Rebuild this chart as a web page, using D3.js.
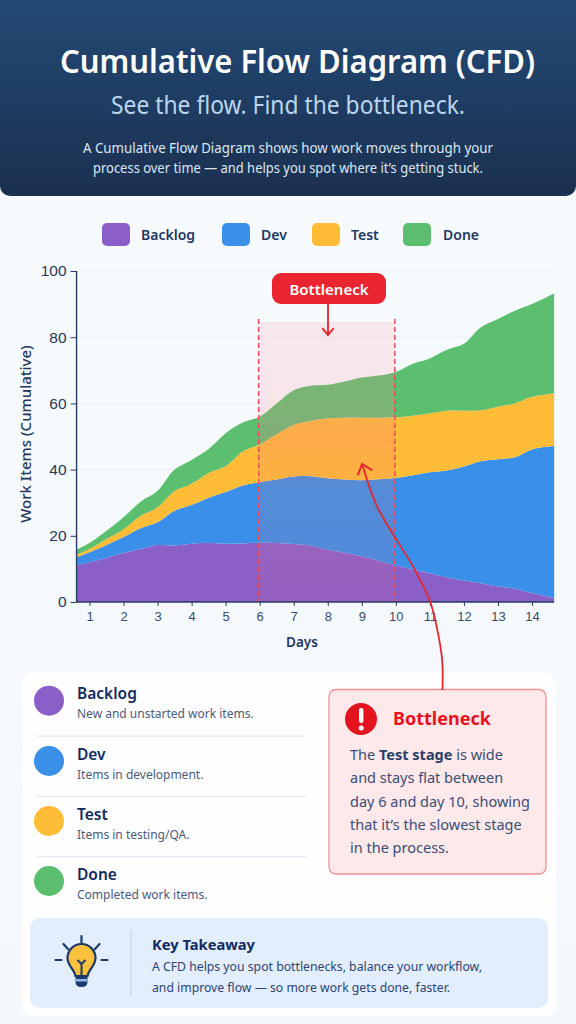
<!DOCTYPE html>
<html>
<head>
<meta charset="utf-8">
<script src="https://cdn.jsdelivr.net/npm/d3@7"></script>
<style>
    html, body { margin: 0; padding: 0; background: #f6fafd; }
    svg { display: block; font-family: "Noto Sans", sans-serif; }
    .y-axis text { font-size: 15.5px; fill: #26375a; }
    .x-axis text { font-size: 13px; fill: #3a4a6a; }
    .axis-line { stroke: #2a3a5e; }
</style>
</head>
<body>
<div id="chart"></div>
<script>
// Sampled days along the x axis
var days = [0.62, 1, 1.5, 2, 2.5, 3, 3.5, 4, 4.5, 5, 5.5, 6, 6.5, 7, 7.5, 8, 8.5, 9, 9.5, 10, 10.5, 11, 11.5, 12, 12.5, 13, 13.5, 14, 14.65];

// Width of each band at the sampled days
var backlog = [11, 12, 13.4, 14.8, 16, 17.2, 17.1, 17.6, 17.9, 17.6, 17.7, 17.9, 17.8, 17.5, 17, 15.8, 14.9, 13.8, 12.5, 11, 9.8, 8.7, 7.5, 6.5, 5.7, 4.7, 4, 2.7, 1.2];
var dev = [2.5, 3, 3.8, 4.8, 6.3, 6.9, 10.5, 11.7, 13.6, 15.6, 17.5, 18.3, 19.2, 20.4, 21, 21.6, 22.1, 23, 24.6, 26.5, 28.5, 30.5, 32.2, 34.4, 36.8, 38.4, 39.7, 43.4, 45.9];
var test = [0.8, 1, 1.8, 2.4, 3.7, 4.5, 5.9, 6.4, 7.5, 7.8, 10.3, 11.4, 13.7, 15.6, 16.7, 18.1, 18.7, 18.9, 18.6, 18.3, 18, 17.8, 18.1, 16.9, 15.4, 15.9, 16.3, 15.9, 16];
var done = [1.5, 1.8, 2.5, 3.6, 4.3, 5, 6.5, 7.2, 7.2, 10, 8.7, 8.4, 9.3, 10.5, 10.6, 10.1, 10.9, 12.1, 12.7, 13.7, 15.7, 16.6, 18.4, 20.2, 25.1, 26.5, 28, 28, 30.1];

var stageNames = ["Backlog", "Dev", "Test", "Done"];
var stageColors = ["#8a60c8", "#3a8fe8", "#ffbc36", "#5cbf70"];
var stageNotes = ["New and unstarted work items.", "Items in development.", "Items in testing/QA.", "Completed work items."];

var dayTicks = [1, 2, 3, 4, 5, 6, 7, 8, 9, 10, 11, 12, 13, 14];
var valueTicks = [0, 20, 40, 60, 80, 100];
var bottleneckDays = [6, 10];
var bottleneckTop = 84.6;

// Curved annotation arrow in [day, value] terms
var arrowPath = [[11.37, -26.6], [11.36, -17.5], [11.19, -7], [11.01, 0], [10.51, 10.6], [9.99, 19.3], [9.43, 29.3], [9.01, 41.7]];

var width = 576, height = 1024;

var svg = d3.select("#chart").append("svg")
    .attr("width", width)
    .attr("height", height);

var defs = svg.append("defs");

function addGradient(id, stops) {
    var g = defs.append("linearGradient").attr("id", id)
        .attr("x1", 0).attr("y1", 0).attr("x2", 0).attr("y2", 1);
    stops.forEach(function(s) {
        g.append("stop").attr("offset", s[0]).attr("stop-color", s[1]).attr("stop-opacity", s[2]);
    });
}
addGradient("headerFill", [[0, "#244a75", 1], [1, "#1a3050", 1]]);
addGradient("bandFill", [[0, "#ff8a90", 0.16], [0.28, "#ff8a90", 0.18], [0.42, "#f57a80", 0.26], [0.6, "#f57a70", 0.14], [1, "#f0608a", 0.12]]);
addGradient("pageFill", [[0, "#f7fbfd", 1], [1, "#f3f8fc", 1]]);

svg.append("rect").attr("width", width).attr("height", height).attr("fill", "url(#pageFill)");

// Header
svg.append("path")
    .attr("d", "M0,0H576V186a10,10 0 0 1 -10,10H10a10,10 0 0 1 -10,-10Z")
    .attr("fill", "url(#headerFill)");

function addText(parent, x, y, str, size, weight, color, anchor) {
    return parent.append("text")
        .attr("x", x).attr("y", y)
        .attr("font-size", size)
        .attr("font-weight", weight)
        .attr("fill", color)
        .attr("text-anchor", anchor || "start")
        .text(str);
}

// squeeze a line to the width it has in the picture
function fitText(sel, len) {
    return sel.attr("textLength", len).attr("lengthAdjust", "spacingAndGlyphs");
}

fitText(addText(svg, 297.5, 73, "Cumulative Flow Diagram (CFD)", 31.5, 600, "#ffffff", "middle"), 475);
fitText(addText(svg, 288, 114, "See the flow. Find the bottleneck.", 24.5, 400, "#bcd5ee", "middle"), 354);
fitText(addText(svg, 288, 153, "A Cumulative Flow Diagram shows how work moves through your", 13.6, 400, "#dde7f2", "middle"), 410);
fitText(addText(svg, 288, 173, "process over time \u2014 and helps you spot where it\u2019s getting stuck.", 13.6, 400, "#dde7f2", "middle"), 390);

// Top legend
var legendX = [102, 222, 312, 403];
var legendTextX = [141, 261, 351, 443];
stageNames.forEach(function(name, i) {
    svg.append("rect")
        .attr("x", legendX[i]).attr("y", 223)
        .attr("width", 28).attr("height", 23).attr("rx", 5)
        .attr("fill", stageColors[i]);
    addText(svg, legendTextX[i], 240, name, 14, 600, "#1f3763");
});

// Scales
var x = d3.scaleLinear().domain([1, 14]).range([89.5, 532]);
var y = d3.scaleLinear().domain([0, 100]).range([602, 271]);
var plotLeft = x(days[0]), plotRight = x(days[days.length - 1]);

// Grid lines
svg.append("g").selectAll("line")
    .data(valueTicks.slice(1))
    .enter().append("line")
    .attr("x1", plotLeft).attr("x2", plotRight)
    .attr("y1", function(d) { return y(d); })
    .attr("y2", function(d) { return y(d); })
    .attr("stroke", "#e9eff5")
    .attr("stroke-width", 1);

// Stacked areas
var rows = days.map(function(d, i) {
    return { day: d, Backlog: backlog[i], Dev: dev[i], Test: test[i], Done: done[i] };
});
var stack = d3.stack().keys(stageNames);
var area = d3.area()
    .x(function(d) { return x(d.data.day); })
    .y0(function(d) { return y(d[0]); })
    .y1(function(d) { return y(d[1]); })
    .curve(d3.curveCatmullRom);

svg.append("g").selectAll("path")
    .data(stack(rows))
    .enter().append("path")
    .attr("d", area)
    .attr("fill", function(d, i) { return stageColors[i]; });

// Bottleneck band
svg.append("rect")
    .attr("x", x(bottleneckDays[0]) - 1)
    .attr("y", y(bottleneckTop))
    .attr("width", x(bottleneckDays[1]) - x(bottleneckDays[0]))
    .attr("height", y(0) - y(bottleneckTop))
    .attr("fill", "url(#bandFill)");

svg.append("g").selectAll("line")
    .data(bottleneckDays)
    .enter().append("line")
    .attr("x1", function(d) { return x(d) - 1; })
    .attr("x2", function(d) { return x(d) - 1; })
    .attr("y1", y(85.5))
    .attr("y2", y(0))
    .attr("stroke", "#ec4a58")
    .attr("stroke-width", 1.5)
    .attr("stroke-dasharray", "5,3");

// Axes
var xAxis = d3.axisBottom(x).tickValues(dayTicks).tickSize(4).tickPadding(6).tickFormat(d3.format("d"));
var yAxis = d3.axisLeft(y).tickValues(valueTicks).tickSize(6).tickPadding(4);

var gx = svg.append("g").attr("class", "x-axis")
    .attr("transform", "translate(0," + y(0) + ")").call(xAxis);
var gy = svg.append("g").attr("class", "y-axis")
    .attr("transform", "translate(" + plotLeft + ",0)").call(yAxis);

gx.select(".domain").remove();
gy.select(".domain").remove();
gx.selectAll("line").attr("stroke", "#2a3a5e");
gy.selectAll("line").attr("stroke", "#2a3a5e");

svg.append("line").attr("class", "axis-line")
    .attr("x1", plotLeft).attr("x2", plotRight)
    .attr("y1", y(0)).attr("y2", y(0)).attr("stroke-width", 1.4);
svg.append("line").attr("class", "axis-line")
    .attr("x1", plotLeft).attr("x2", plotLeft)
    .attr("y1", y(100)).attr("y2", y(0)).attr("stroke-width", 1.4);

addText(svg, 302, 647, "Days", 13.5, 600, "#1f3763", "middle");
svg.append("text")
    .attr("transform", "translate(31,434) rotate(-90)")
    .attr("text-anchor", "middle")
    .attr("font-size", 15)
    .attr("font-weight", 500)
    .attr("fill", "#26375a")
    .text("Work Items (Cumulative)");

// Bottleneck pill with its short arrow
svg.append("rect")
    .attr("x", 272).attr("y", 273)
    .attr("width", 114).attr("height", 31).attr("rx", 9)
    .attr("fill", "#e9252f");
addText(svg, 329, 295, "Bottleneck", 15, 600, "#ffffff", "middle");

function arrowHead(tipX, tipY, angle, size) {
    // two short strokes swept back from the tip
    var a1 = angle + Math.PI * 0.78, a2 = angle - Math.PI * 0.78;
    return "M" + (tipX + size * Math.cos(a1)) + "," + (tipY + size * Math.sin(a1)) +
        "L" + tipX + "," + tipY +
        "L" + (tipX + size * Math.cos(a2)) + "," + (tipY + size * Math.sin(a2));
}

svg.append("line")
    .attr("x1", 328).attr("x2", 328).attr("y1", 304).attr("y2", 334)
    .attr("stroke", "#e5202c").attr("stroke-width", 1.8);
svg.append("path")
    .attr("d", arrowHead(328, 335, Math.PI / 2, 9))
    .attr("fill", "none").attr("stroke", "#e5202c").attr("stroke-width", 1.8);

// Long curved arrow down to the callout
var arrowLine = d3.line()
    .x(function(d) { return x(d[0]); })
    .y(function(d) { return y(d[1]); })
    .curve(d3.curveCatmullRom);

// Cards
svg.append("rect")
    .attr("x", 22).attr("y", 673)
    .attr("width", 534).attr("height", 343).attr("rx", 10)
    .attr("fill", "#ffffff").attr("fill-opacity", 0.85);

var rowY = [700.7, 761, 821, 881];
stageNames.forEach(function(name, i) {
    svg.append("circle")
        .attr("cx", 49).attr("cy", rowY[i]).attr("r", 15)
        .attr("fill", stageColors[i]);
    addText(svg, 77, rowY[i] - 1.5, name, 15.5, 600, "#12295e");
    addText(svg, 77, rowY[i] + 17.5, stageNotes[i], 12, 400, "#4a5a7a");
    if (i < 3) {
        svg.append("line")
            .attr("x1", 37).attr("x2", 306)
            .attr("y1", rowY[i] + 35.5).attr("y2", rowY[i] + 35.5)
            .attr("stroke", "#dfe7f2").attr("stroke-width", 1.2);
    }
});

// Callout
svg.append("rect")
    .attr("x", 329).attr("y", 689.5)
    .attr("width", 217).attr("height", 184.5).attr("rx", 7)
    .attr("fill", "#fde8ea")
    .attr("stroke", "#f48f95").attr("stroke-width", 1.3);

svg.append("path")
    .attr("d", arrowLine(arrowPath))
    .attr("fill", "none").attr("stroke", "#e5262f").attr("stroke-width", 1.8);
svg.append("path")
    .attr("d", arrowHead(x(arrowPath[7][0]), y(arrowPath[7][1]), -Math.PI * 0.6, 12))
    .attr("fill", "none").attr("stroke", "#e5262f").attr("stroke-width", 2);

svg.append("circle").attr("cx", 361).attr("cy", 719).attr("r", 16).attr("fill", "#e4141f");
svg.append("rect").attr("x", 359).attr("y", 708).attr("width", 4.4).attr("height", 15).attr("rx", 2).attr("fill", "#ffffff");
svg.append("circle").attr("cx", 361.2).attr("cy", 728).attr("r", 2.5).attr("fill", "#ffffff");
addText(svg, 393, 725, "Bottleneck", 18, 700, "#e8121f");

var calloutLines = ["and stays flat between", "day 6 and day 10, showing", "that it\u2019s the slowest stage", "in the process."];
var firstLine = addText(svg, 350, 760, "The ", 14.5, 400, "#3a4d75");
firstLine.append("tspan").attr("font-weight", 700).attr("fill", "#2a3d66").text("Test stage");
firstLine.append("tspan").text(" is wide");
calloutLines.forEach(function(line, i) {
    addText(svg, 350, 783.3 + i * 23.2, line, 14.5, 400, "#3a4d75");
});

// Key takeaway
svg.append("rect")
    .attr("x", 30).attr("y", 918)
    .attr("width", 518).attr("height", 90).attr("rx", 10)
    .attr("fill", "#e2eefb");
svg.append("line")
    .attr("x1", 131).attr("x2", 131).attr("y1", 930).attr("y2", 996)
    .attr("stroke", "#bcd6f2").attr("stroke-width", 1.2);

var bulb = svg.append("g").attr("transform", "translate(81.5,961)");
bulb.append("path")
    .attr("d", "M-6,15C-7,8 -14,5 -14,-3A14,14 0 0 1 14,-3C14,5 7,8 6,15Z")
    .attr("fill", "#fcc23e").attr("stroke", "#1b3a6b").attr("stroke-width", 2.2);
bulb.append("path")
    .attr("d", "M-4,-1L0,3L4,-1M0,3V15")
    .attr("fill", "none").attr("stroke", "#1b3a6b").attr("stroke-width", 2);
bulb.append("path")
    .attr("d", "M-6,15H6V21Q6,26 0,26Q-6,26 -6,21Z")
    .attr("fill", "#1b3a6b");
bulb.append("rect").attr("x", -6).attr("y", 18).attr("width", 12).attr("height", 2.5).attr("fill", "#8fb6e6");
bulb.append("path")
    .attr("d", "M0,-25V-17M-18,-17L-13.5,-12M18,-17L13.5,-12M-26,-1H-20M26,-1H20")
    .attr("fill", "none").attr("stroke", "#1b3a6b").attr("stroke-width", 2.2).attr("stroke-linecap", "round");

addText(svg, 152, 950, "Key Takeaway", 14.7, 700, "#12295e");
fitText(addText(svg, 152, 971, "A CFD helps you spot bottlenecks, balance your workflow,", 13.2, 400, "#2c4374"), 330);
fitText(addText(svg, 152, 992, "and improve flow \u2014 so more work gets done, faster.", 13.2, 400, "#2c4374"), 298);
</script>
</body>
</html>
